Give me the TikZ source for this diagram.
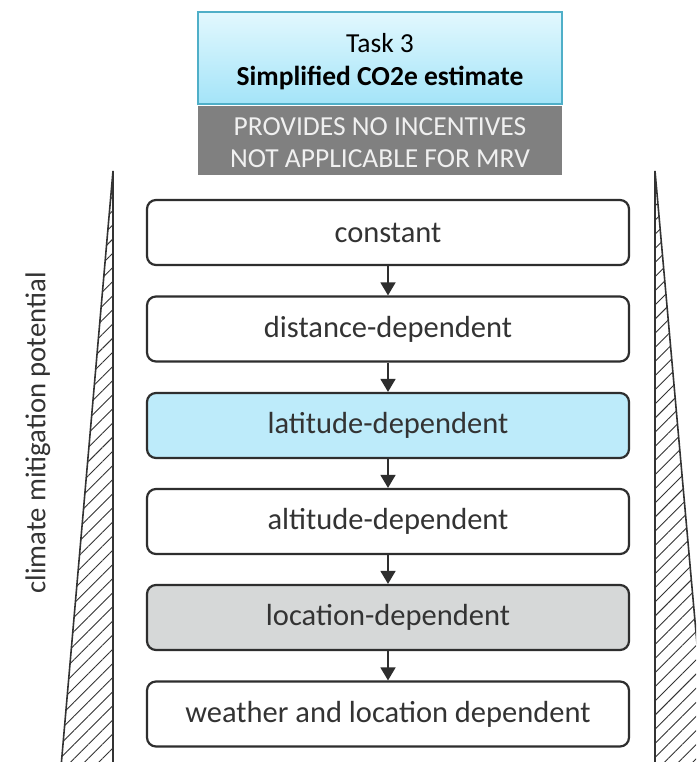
\documentclass[tikz,border=0pt]{standalone}
\usepackage{fontspec}
\setmainfont{Carlito}
\usetikzlibrary{arrows.meta,patterns.meta}
\definecolor{boxline}{HTML}{2E2E2E}
\definecolor{boxtext}{HTML}{333333}
\definecolor{skyfill}{HTML}{BDEBFA}
\definecolor{greyfill}{HTML}{D6D8D8}
\definecolor{tasktop}{HTML}{E2F8FE}
\definecolor{taskbot}{HTML}{A4E4F8}
\definecolor{taskline}{HTML}{4FAFC8}
\definecolor{bandfill}{HTML}{808080}
\definecolor{hatch}{HTML}{333333}
\tikzset{
  level/.style={draw=boxline, line width=2.2pt, rounded corners=9pt, fill=white,
    minimum width=482pt, minimum height=65pt, text=boxtext,
    font=\fontsize{30.5}{32}\selectfont, inner sep=0pt},
  flow/.style={draw=boxline, line width=1.6pt, -{Triangle[width=15pt,length=13pt]}},
  wedge/.style={draw=hatch, line width=1.6pt, line join=miter,
    pattern={Lines[angle=45,distance=10pt,line width=0.9pt]}, pattern color=hatch},
}
\begin{document}
\begin{tikzpicture}[x=1pt,y=-1pt]
\useasboundingbox (0,0) rectangle (696,762);
\clip (0,0) rectangle (696,762);
\fill[white] (0,0) rectangle (696,762);

% task header and note band
\node[draw=taskline, line width=1.4pt, top color=tasktop, bottom color=taskbot,
  minimum width=364pt, minimum height=92pt, inner sep=0pt] (task) at (380,58) {};
\node[align=center, inner sep=0pt, font=\fontsize{27.5}{33}\selectfont]
  (tasktext) at ([yshift=-4pt]task.center)
  {Task 3\\\textbf{Simplified CO2e estimate}};
\node[fill=bandfill, minimum width=364pt, minimum height=69pt, inner sep=0pt]
  (note) at (380,140.5) {};
\node[align=center, inner sep=0pt, text=white!94!black, font=\fontsize{27.5}{32}\selectfont]
  (notetext) at ([yshift=-2.5pt]note.center)
  {PROVIDES NO INCENTIVES\\NOT APPLICABLE FOR MRV};

% hatched wedges on both sides
\draw[wedge] (113,171) -- (113,790) -- (59,790) -- cycle;
\draw[wedge] (655,171) -- (655,790) -- (710,790) -- cycle;

\node[rotate=90, text=boxtext, font=\fontsize{28.7}{30}\selectfont] (axis) at (38,433)
  {climate mitigation potential};

% ladder of model levels
\node[level] (l1) at (388,232.5) {constant};
\node[level] (l2) at (388,329) {distance-dependent};
\node[level, fill=skyfill] (l3) at (388,425.5) {latitude-dependent};
\node[level] (l4) at (388,521.5) {altitude-dependent};
\node[level, fill=greyfill] (l5) at (388,617.5) {location-dependent};
\node[level] (l6) at (388,714) {weather and location dependent};

\foreach \a/\b in {l1/l2,l2/l3,l3/l4,l4/l5,l5/l6}
  \draw[flow] (\a.south) -- (\b.north);
\end{tikzpicture}
\end{document}
